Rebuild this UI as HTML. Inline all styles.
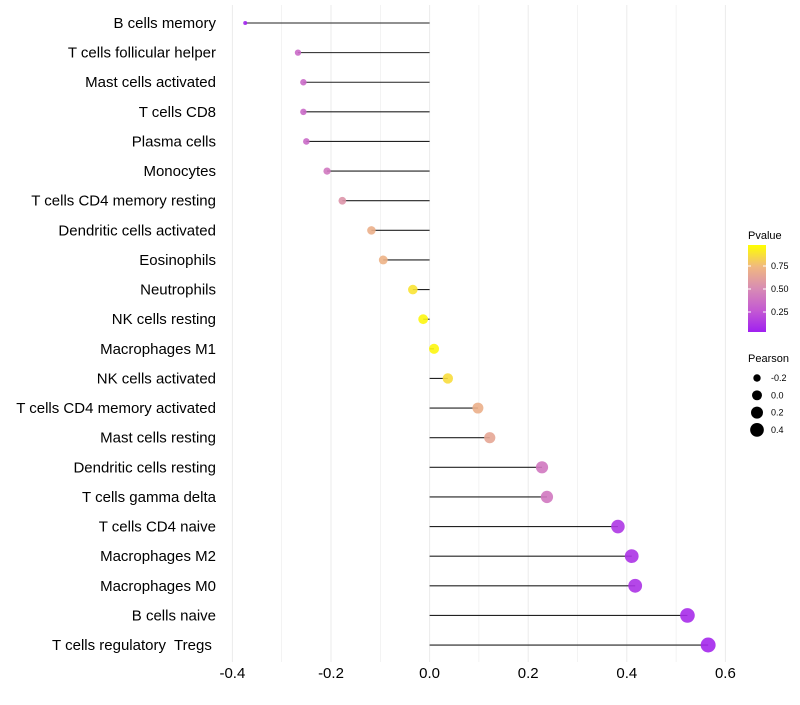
<!DOCTYPE html>
<html><head><meta charset="utf-8"><style>
body{margin:0;background:#fff;font-family:"Liberation Sans",sans-serif}
text{white-space:pre}
</style></head><body>
<svg id="c" width="800" height="700" xmlns="http://www.w3.org/2000/svg" font-family="Liberation Sans, sans-serif"></svg>
<script>
const categories=["B cells memory","T cells follicular helper","Mast cells activated","T cells CD8","Plasma cells","Monocytes","T cells CD4 memory resting","Dendritic cells activated","Eosinophils","Neutrophils","NK cells resting","Macrophages M1","NK cells activated","T cells CD4 memory activated","Mast cells resting","Dendritic cells resting","T cells gamma delta","T cells CD4 naive","Macrophages M2","Macrophages M0","B cells naive","T cells regulatory  Tregs "];
const pearson=[-0.374,-0.267,-0.256,-0.256,-0.25,-0.208,-0.177,-0.118,-0.094,-0.034,-0.013,0.009,0.037,0.098,0.122,0.228,0.238,0.382,0.41,0.417,0.523,0.565];
const pvalue=[0.02,0.33,0.33,0.33,0.33,0.4,0.55,0.7,0.72,0.9,0.97,0.97,0.88,0.7,0.65,0.4,0.4,0.1,0.08,0.08,0.05,0.03];
const xTicks=[-0.4,-0.2,0,0.2,0.4,0.6];
const xTickLabels=["-0.4","-0.2","0.0","0.2","0.4","0.6"];
const pTicks=[0.25,0.5,0.75];
const sizeLegend=[-0.2,0,0.2,0.4];
const svg=document.getElementById('c');
const NS='http://www.w3.org/2000/svg';
function mk(t,a,p){const e=document.createElementNS(NS,t);for(const k in a)e.setAttribute(k,a[k]);(p||svg).appendChild(e);return e;}
const x=v=>429.6+(v)*493;
const y=i=>23+i*29.62;
const r=v=>Math.sqrt(Math.max(1,4+(v+0.374)*55.4));
const stops=[[160,32,240],[196,90,210],[216,140,180],[240,184,128],[255,255,0]];
function col(p){const t=Math.min(1,Math.max(0,p))*4;const i=Math.min(3,Math.floor(t));const f=t-i;const a=stops[i],b=stops[i+1];return 'rgb('+a.map((c,k)=>Math.round(c+(b[k]-c)*f)).join(',')+')';}
for(let v=-0.4;v<=0.61;v+=0.1){const g=mk('line',{x1:x(v),x2:x(v),y1:5,y2:662,stroke:'#ebebeb','stroke-width':Math.abs(Math.round(v*10))%2?0.6:1});}
xTicks.forEach((v,i)=>{const t=mk('text',{x:x(v),y:678,'text-anchor':'middle','font-size':15,fill:'#000'});t.textContent=xTickLabels[i];});
categories.forEach((c,i)=>{
 const t=mk('text',{x:216,y:y(i)+5,'text-anchor':'end','font-size':15,fill:'#000','xml:space':'preserve'});t.textContent=c;
 
 const l=mk('line',{x1:x(0),x2:x(pearson[i]),y1:y(i),y2:y(i),stroke:'#222','stroke-width':1.1});
 
 const p=mk('circle',{cx:x(pearson[i]),cy:y(i),r:r(pearson[i]),fill:col(pvalue[i]),'fill-opacity':0.9});
 
});
const lt=mk('text',{x:748,y:239,'font-size':11});lt.textContent='Pvalue';
const defs=mk('defs',{});const lg=mk('linearGradient',{id:'pg',x1:0,y1:1,x2:0,y2:0},defs);
stops.forEach((s,i)=>mk('stop',{offset:i/4,'stop-color':'rgb('+s.join(',')+')'},lg));
const cb=mk('rect',{x:748,y:245,width:18,height:87,fill:'url(#pg)'});
const py=p=>335-p*92;
pTicks.forEach(p=>{mk('line',{x1:748,x2:751,y1:py(p),y2:py(p),stroke:'#fff'});mk('line',{x1:763,x2:766,y1:py(p),y2:py(p),stroke:'#fff'});const t=mk('text',{x:771,y:py(p)+3,'font-size':9});t.textContent=p.toFixed(2);});
const st=mk('text',{x:748,y:362,'font-size':11});st.textContent='Pearson';
sizeLegend.forEach((v,i)=>{const cy=378+i*17.3;const c=mk('circle',{cx:757,cy:cy,r:r(v),fill:'#000'});const t=mk('text',{x:771,y:cy+3,'font-size':9});t.textContent=v.toFixed(1);});
</script>
</body></html>
